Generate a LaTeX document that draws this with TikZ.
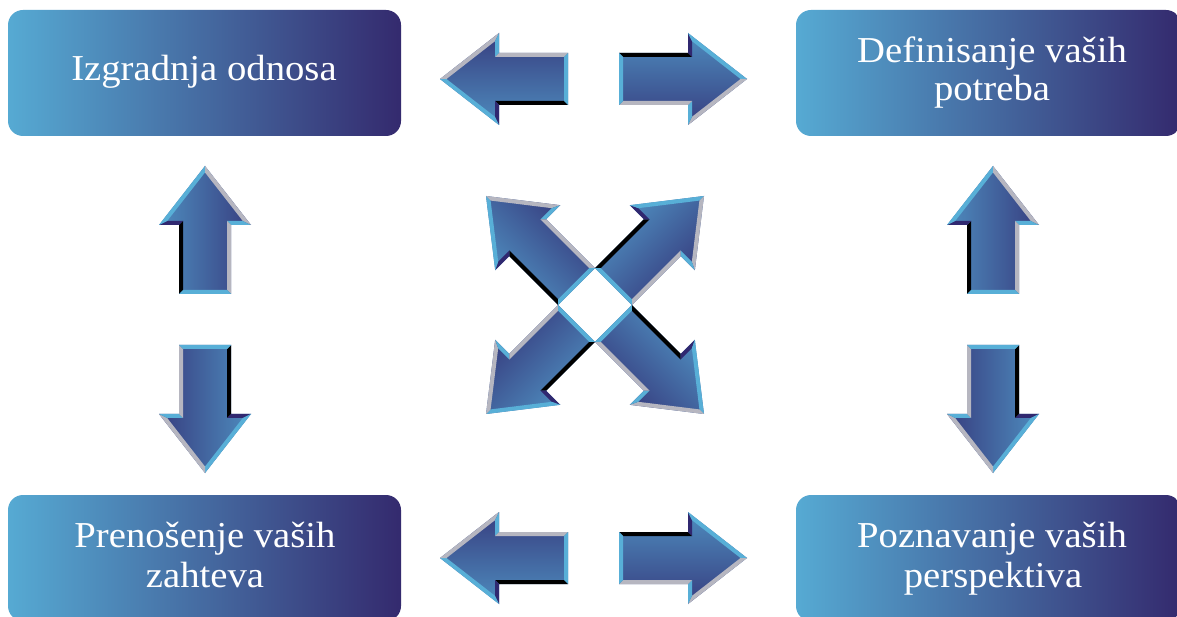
\documentclass[tikz,border=0pt]{standalone}
\usepackage{fontspec}
\setmainfont{Liberation Serif}[FakeStretch=1.06]
\definecolor{boxL}{RGB}{86,170,211}
\definecolor{boxR}{RGB}{52,42,110}
\definecolor{arL}{RGB}{78,140,190}
\definecolor{arD}{RGB}{55,62,128}
\definecolor{bvBlue}{RGB}{88,175,215}
\definecolor{bvGray}{RGB}{182,182,192}
\definecolor{bvNavy}{RGB}{48,40,112}
\tikzset{
  box/.style={rectangle, rounded corners=15pt, left color=boxL, right color=boxR, draw=none, inner sep=0pt},
  lbl/.style={text=white, font=\fontsize{36.5}{40}\selectfont, anchor=base, inner sep=0pt},
  bvblack/.style={fill=black},
  bvgray/.style={fill=bvGray},
  bvblue/.style={fill=bvBlue},
  bvnavy/.style={fill=bvNavy},
  arbody/.style={top color=arL, bottom color=arD}
}
\newcommand{\bevarrow}[3]{%
  \begin{scope}[transform canvas={shift={(#1,#2)},rotate=#3}]
    \shade[arbody] (-128,26) -- (-59,26) -- (-59,46) -- (0,0) -- (-59,-46) -- (-59,-26) -- (-128,-26) -- cycle;
    \path[bvblack] (-128,26) -- (-59,26) -- (-55,22) -- (-124,22) -- cycle;
    \path[bvnavy] (-59,26) -- (-59,46) -- (-55,37.8) -- (-55,22) -- cycle;
    \path[bvblue] (-59,46) -- (0,0) -- (-6.5,0) -- (-55,37.8) -- cycle;
    \path[bvgray] (0,0) -- (-59,-46) -- (-55,-37.8) -- (-6.5,0) -- cycle;
    \path[bvblue] (-59,-46) -- (-59,-26) -- (-55,-22) -- (-55,-37.8) -- cycle;
    \path[bvgray] (-59,-26) -- (-128,-26) -- (-124,-22) -- (-55,-22) -- cycle;
    \path[bvblue] (-128,-26) -- (-128,26) -- (-124,22) -- (-124,-22) -- cycle;
  \end{scope}}
\begin{document}
\begin{tikzpicture}[x=1pt,y=1pt]
  \useasboundingbox (0,0) rectangle (1177,616);
  \clip (0,0) rectangle (1177,616);
  \fill[white] (0,0) rectangle (1177,616);
  % boxes
  \node[box, minimum width=393pt, minimum height=126pt] (tl) at (204.5,543) {};
  \node[box, minimum width=385pt, minimum height=126pt] (tr) at (988.5,543) {};
  \node[box, minimum width=393pt, minimum height=126pt] (bl) at (204.5,58) {};
  \node[box, minimum width=385pt, minimum height=126pt] (br) at (988.5,58) {};
  % labels
  \node[lbl] (t1) at (204,535) {Izgradnja odnosa};
  \node[lbl] (t2a) at (992,553) {Definisanje vaših};
  \node[lbl] (t2b) at (992,515) {potreba};
  \node[lbl] (t3a) at (205,69) {Prenošenje vaših};
  \node[lbl] (t3b) at (205,29) {zahteva};
  \node[lbl] (t4a) at (992,69) {Poznavanje vaših};
  \node[lbl] (t4b) at (993,29) {perspektiva};
  % horizontal arrows
  \bevarrow{440}{537}{180}
  \bevarrow{747}{537}{0}
  \bevarrow{440}{58}{180}
  \bevarrow{747}{58}{0}
  % vertical arrows
  \bevarrow{205}{450}{90}
  \bevarrow{205}{143}{-90}
  \bevarrow{993}{450}{90}
  \bevarrow{993}{143}{-90}
  % diagonal arrows
  \bevarrow{704}{420}{45}
  \bevarrow{486}{420}{135}
  \bevarrow{486}{202}{225}
  \bevarrow{704}{202}{-45}
\end{tikzpicture}
\end{document}
